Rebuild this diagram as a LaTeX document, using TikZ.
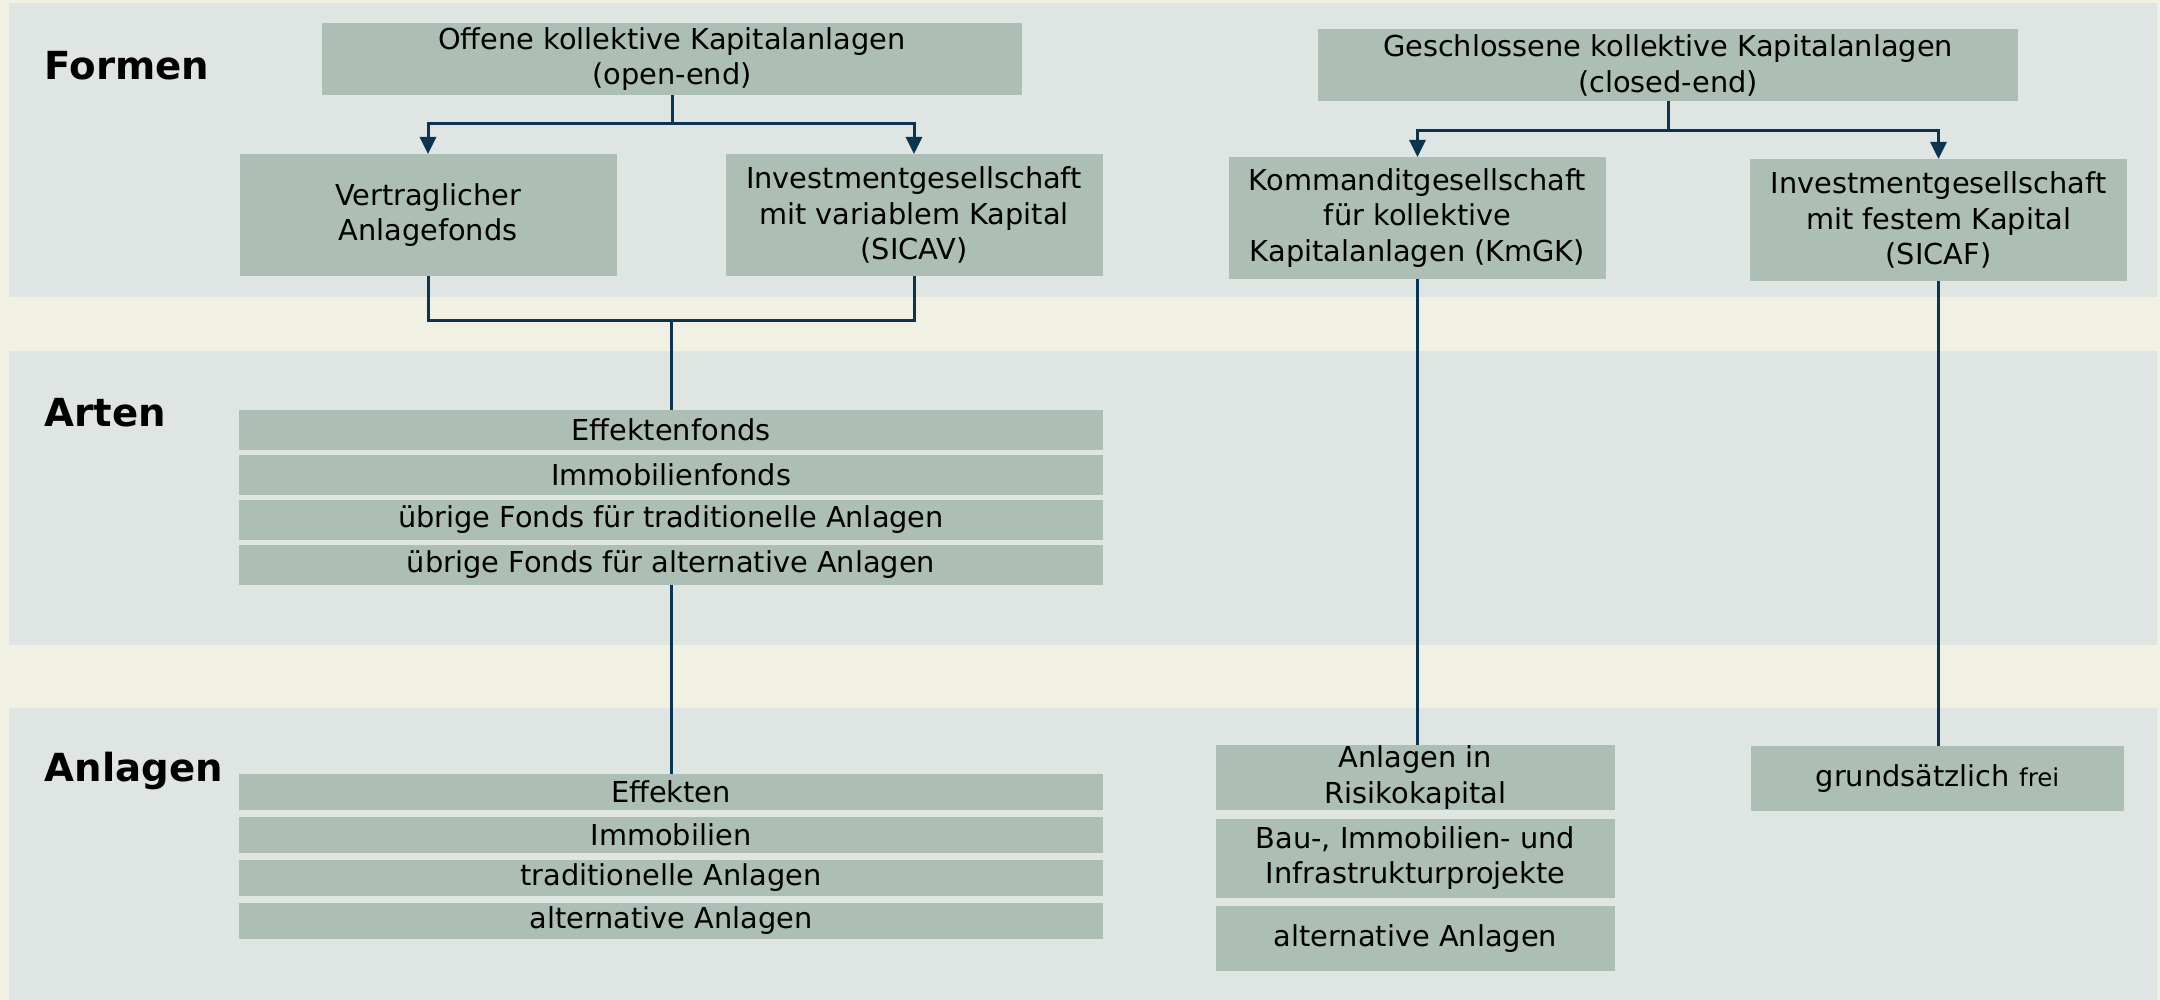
\documentclass[tikz,border=0pt]{standalone}
\usepackage{fontspec}
\setmainfont{DejaVu Sans}
\usetikzlibrary{positioning,arrows.meta}
\definecolor{bgbeige}{RGB}{240,240,227}
\definecolor{bandgrey}{RGB}{223,229,226}
\definecolor{boxgreen}{RGB}{173,190,181}
\definecolor{linknavy}{RGB}{12,52,78}
\tikzset{
  band/.style={fill=bandgrey, draw=none},
  rowlabel/.style={anchor=base west, inner sep=0pt, font=\fontsize{11}{13}\selectfont\bfseries},
  module/.style={fill=boxgreen, align=center, inner sep=0pt, outer sep=0pt, font=\fontsize{8.2}{10.2}\selectfont},
  head module/.style={module, minimum width=7cm, minimum height=0.72cm},
  form module/.style={module, minimum width=3.77cm, minimum height=1.22cm},
  list module/.style={module, minimum width=8.64cm, minimum height=0.40cm},
  asset module/.style={module, minimum width=8.64cm, minimum height=0.36cm},
  side module/.style={module, minimum width=3.99cm, minimum height=0.65cm},
  link/.style={draw=linknavy, line width=0.85pt},
  link arrow/.style={link, -{Triangle[width=1.6mm,length=1.7mm]}},
}

\begin{document}
\begin{tikzpicture}
%the background
\fill[bgbeige] (0,0) rectangle (21.6,-10);
\useasboundingbox (0,0) rectangle (21.6,-10);
\fill[band] (0.09,-0.03) rectangle (21.57,-2.97);
\fill[band] (0.09,-3.51) rectangle (21.57,-6.45);
\fill[band] (0.09,-7.08) rectangle (21.57,-10);
%the row labels
\node[rowlabel] (formen) at (0.44,-0.80) {Formen};
\node[rowlabel] (arten) at (0.44,-4.27) {Arten};
\node[rowlabel] (anlagen) at (0.44,-7.82) {Anlagen};
%the nodes, open-end
\node[head module] (offen) at (6.72,-0.59) {Offene kollektive Kapitalanlagen\\(open-end)};
\node[form module] (vertrag) at (4.28,-2.15) {Vertraglicher\\Anlagefonds};
\node[form module,right=1.09cm of vertrag] (sicav) {Investmentgesellschaft\\mit variablem Kapital\\(SICAV)};
\node[list module] (effektenfonds) at (6.71,-4.30) {Effektenfonds};
\node[list module,below=0.05cm of effektenfonds] (immofonds) {Immobilienfonds};
\node[list module,below=0.05cm of immofonds] (tradfonds) {übrige Fonds für traditionelle Anlagen};
\node[list module,below=0.05cm of tradfonds] (altfonds) {übrige Fonds für alternative Anlagen};
\node[asset module] (effekten) at (6.71,-7.92) {Effekten};
\node[asset module,below=0.07cm of effekten] (immo) {Immobilien};
\node[asset module,below=0.07cm of immo] (trad) {traditionelle Anlagen};
\node[asset module,below=0.07cm of trad] (alt) {alternative Anlagen};
%the nodes, closed-end
\node[head module] (geschl) at (16.68,-0.655) {Geschlossene kollektive Kapitalanlagen\\(closed-end)};
\node[form module] (kmgk) at (14.175,-2.18) {Kommanditgesellschaft\\für kollektive\\Kapitalanlagen (KmGK)};
\node[form module] (sicaf) at (19.385,-2.20) {Investmentgesellschaft\\mit festem Kapital\\(SICAF)};
\node[side module] (risiko) at (14.155,-7.775) {Anlagen in\\Risikokapital};
\node[side module,minimum height=0.79cm,below=0.085cm of risiko] (bau) {Bau-, Immobilien- und\\Infrastrukturprojekte};
\node[side module,below=0.085cm of bau] (altside) {alternative Anlagen};
\node[side module,minimum width=3.73cm] (frei) at (19.375,-7.785) {grundsätzlich {\fontsize{7}{10.2}\selectfont frei}};
%drawings of connectors
\draw[link arrow] (offen.south) -- ++(0,-0.29) -| (vertrag.north);
\draw[link arrow] (offen.south) -- ++(0,-0.29) -| (sicav.north);
\draw[link] (vertrag.south) -- ++(0,-0.45) coordinate (j1) -| (sicav.south);
\draw[link] (j1 -| effektenfonds.north) -- (effektenfonds.north);
\draw[link] (altfonds.south) -- (effekten.north);
\draw[link arrow] (geschl.south) -- ++(0,-0.29) -| (kmgk.north);
\draw[link arrow] (geschl.south) -- ++(0,-0.29) -| (sicaf.north);
\draw[link] (kmgk.south) -- (kmgk.south |- risiko.north);
\draw[link] (sicaf.south) -- (sicaf.south |- frei.north);
\end{tikzpicture}
\end{document}
